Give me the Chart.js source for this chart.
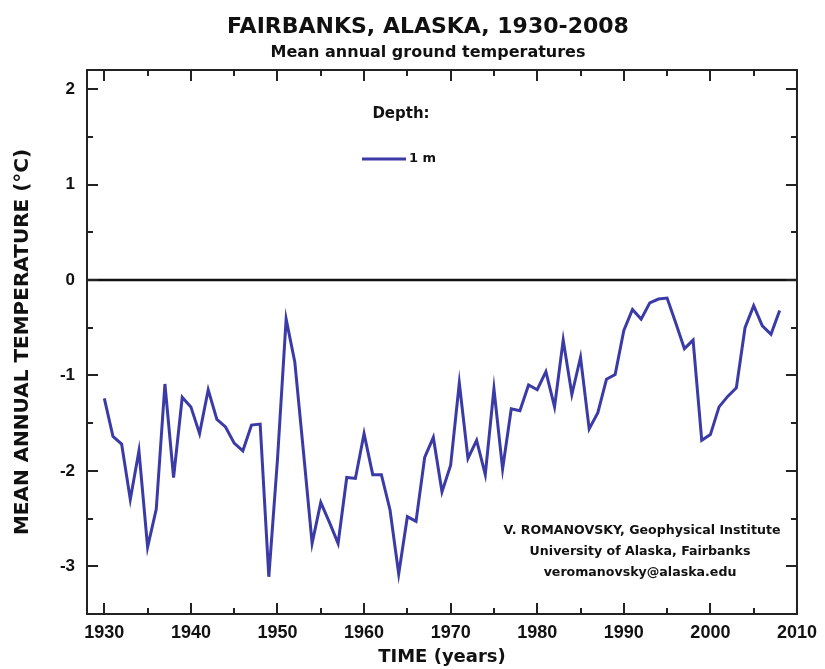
<!DOCTYPE html>
<html>
<head>
<meta charset="utf-8">
<title>Fairbanks, Alaska, 1930-2008</title>
<script src="https://cdn.jsdelivr.net/npm/chart.js@4/dist/chart.umd.min.js"></script>
<style>
  html, body { margin: 0; padding: 0; background: #ffffff; }
  #wrap { width: 825px; height: 669px; }
</style>
</head>
<body>
<div id="wrap"><canvas id="chart" width="825" height="669"></canvas></div>
<script>
// Mean annual ground temperature at 1 m depth, Fairbanks (deg C)
const years = [
  1930, 1931, 1932, 1933, 1934, 1935, 1936, 1937, 1938, 1939,
  1940, 1941, 1942, 1943, 1944, 1945, 1946, 1947, 1948, 1949,
  1950, 1951, 1952, 1953, 1954, 1955, 1956, 1957, 1958, 1959,
  1960, 1961, 1962, 1963, 1964, 1965, 1966, 1967, 1968, 1969,
  1970, 1971, 1972, 1973, 1974, 1975, 1976, 1977, 1978, 1979,
  1980, 1981, 1982, 1983, 1984, 1985, 1986, 1987, 1988, 1989,
  1990, 1991, 1992, 1993, 1994, 1995, 1996, 1997, 1998, 1999,
  2000, 2001, 2002, 2003, 2004, 2005, 2006, 2007, 2008
];
const depth1m = [
  -1.24, -1.64, -1.72, -2.30, -1.79, -2.80, -2.40, -1.09, -2.07, -1.23,
  -1.33, -1.61, -1.15, -1.46, -1.54, -1.71, -1.79, -1.52, -1.51, -3.11,
  -1.88, -0.41, -0.86, -1.80, -2.76, -2.33, -2.54, -2.76, -2.07, -2.08,
  -1.61, -2.04, -2.04, -2.41, -3.08, -2.48, -2.53, -1.86, -1.65, -2.22,
  -1.94, -1.08, -1.87, -1.68, -2.04, -1.14, -1.98, -1.35, -1.37, -1.10,
  -1.15, -0.96, -1.33, -0.63, -1.20, -0.81, -1.56, -1.39, -1.04, -0.99,
  -0.53, -0.31, -0.41, -0.24, -0.20, -0.19, -0.45, -0.72, -0.63, -1.68,
  -1.62, -1.33, -1.22, -1.13, -0.50, -0.27, -0.48, -0.57, -0.32
];

// Axis ticks
const xTickYears = [1930, 1940, 1950, 1960, 1970, 1980, 1990, 2000, 2010];
const xMinorYears = [1935, 1945, 1955, 1965, 1975, 1985, 1995, 2005];
const yTickValues = [2, 1, 0, -1, -2, -3];
const yMinorValues = [1.5, 0.5, -0.5, -1.5, -2.5];

const TEXT = '#111111';
const LINE_BLUE = '#3b3ba8';
const SANS = '"Liberation Sans", Arial, sans-serif';
const WIDE = '"DejaVu Sans", Verdana, sans-serif';

// Frame, inward tick marks, zero line and the annotation texts
const frameAndNotes = {
  id: 'frameAndNotes',
  beforeDatasetsDraw(chart) {
    const { ctx, chartArea: a, scales: { y } } = chart;
    const y0 = y.getPixelForValue(0);
    ctx.save();
    ctx.strokeStyle = '#111';
    ctx.lineWidth = 2.5;
    ctx.beginPath();
    ctx.moveTo(a.left, y0);
    ctx.lineTo(a.right, y0);
    ctx.stroke();
    ctx.restore();
  },
  afterDatasetsDraw(chart) {
    const { ctx, chartArea: a, scales: { x, y } } = chart;
    ctx.save();
    ctx.strokeStyle = '#222';
    ctx.lineWidth = 2;
    ctx.strokeRect(a.left, a.top, a.right - a.left, a.bottom - a.top);
    ctx.beginPath();
    const xt = (v, len) => {
      const px = Math.round(x.getPixelForValue(v));
      ctx.moveTo(px, a.bottom); ctx.lineTo(px, a.bottom - len);
      ctx.moveTo(px, a.top); ctx.lineTo(px, a.top + len);
    };
    const yt = (v, len) => {
      const py = Math.round(y.getPixelForValue(v));
      ctx.moveTo(a.left, py); ctx.lineTo(a.left + len, py);
      ctx.moveTo(a.right, py); ctx.lineTo(a.right - len, py);
    };
    xTickYears.forEach(v => xt(v, 11));
    xMinorYears.forEach(v => xt(v, 6));
    yTickValues.forEach(v => yt(v, 11));
    yMinorValues.forEach(v => yt(v, 6));
    ctx.stroke();
    ctx.restore();
  },
  afterDraw(chart) {
    const { ctx } = chart;
    ctx.save();
    ctx.fillStyle = TEXT;
    ctx.textAlign = 'center';
    ctx.textBaseline = 'alphabetic';
    ctx.font = 'bold 22px ' + WIDE;
    ctx.fillText('FAIRBANKS, ALASKA, 1930-2008', 428, 33);
    ctx.font = 'bold 16px ' + WIDE;
    ctx.fillText('Mean annual ground temperatures', 428, 57);

    // legend
    ctx.font = 'bold 15px ' + WIDE;
    ctx.fillText('Depth:', 401, 118);
    ctx.strokeStyle = LINE_BLUE;
    ctx.lineWidth = 3;
    ctx.beginPath();
    ctx.moveTo(362, 159);
    ctx.lineTo(406, 159);
    ctx.stroke();
    ctx.textAlign = 'left';
    ctx.textBaseline = 'middle';
    ctx.font = 'bold 13px ' + WIDE;
    ctx.fillText('1 m', 409, 159);

    // credits
    ctx.textAlign = 'center';
    ctx.font = 'bold 12.6px ' + WIDE;
    ctx.fillText('V. ROMANOVSKY, Geophysical Institute', 642, 531);
    ctx.fillText('University of Alaska, Fairbanks', 640, 552);
    ctx.fillText('veromanovsky@alaska.edu', 640, 573);
    ctx.restore();
  }
};

new Chart(document.getElementById('chart'), {
  type: 'line',
  data: {
    datasets: [{
      label: '1 m',
      data: years.map((yr, i) => ({ x: yr, y: depth1m[i] })),
      borderColor: LINE_BLUE,
      borderWidth: 3,
      pointRadius: 0,
      tension: 0,
      fill: false
    }]
  },
  options: {
    responsive: false,
    animation: false,
    devicePixelRatio: 1,
    layout: { padding: { left: 0, top: 70, right: 21, bottom: 0 } },
    plugins: {
      legend: { display: false },
      title: { display: false },
      tooltip: { enabled: false }
    },
    scales: {
      x: {
        type: 'linear',
        min: 1928,
        max: 2010,
        afterBuildTicks: s => { s.ticks = xTickYears.map(v => ({ value: v })); },
        afterFit: s => { s.height = 55; },
        grid: { display: false, drawTicks: false },
        border: { display: false },
        ticks: {
          padding: 8,
          autoSkip: false,
          maxRotation: 0,
          color: TEXT,
          font: { family: SANS, size: 18, weight: 'bold' },
          callback: v => String(v)
        },
        title: {
          display: true,
          text: 'TIME (years)',
          color: TEXT,
          font: { family: WIDE, size: 18, weight: 'bold' },
          padding: { top: 0, bottom: 1 }
        }
      },
      y: {
        type: 'linear',
        min: -3.5,
        max: 2.2,
        afterBuildTicks: s => { s.ticks = yTickValues.map(v => ({ value: v })); },
        afterFit: s => { s.width = 87; },
        grid: { display: false, drawTicks: false },
        border: { display: false },
        ticks: {
          padding: 12,
          color: TEXT,
          font: { family: SANS, size: 17, weight: 'bold' },
          callback: v => String(v)
        },
        title: {
          display: true,
          text: 'MEAN ANNUAL TEMPERATURE (°C)',
          color: TEXT,
          font: { family: WIDE, size: 20, weight: 'bold' },
          padding: { top: 11, bottom: 0 }
        }
      }
    }
  },
  plugins: [frameAndNotes]
});
</script>
</body>
</html>
